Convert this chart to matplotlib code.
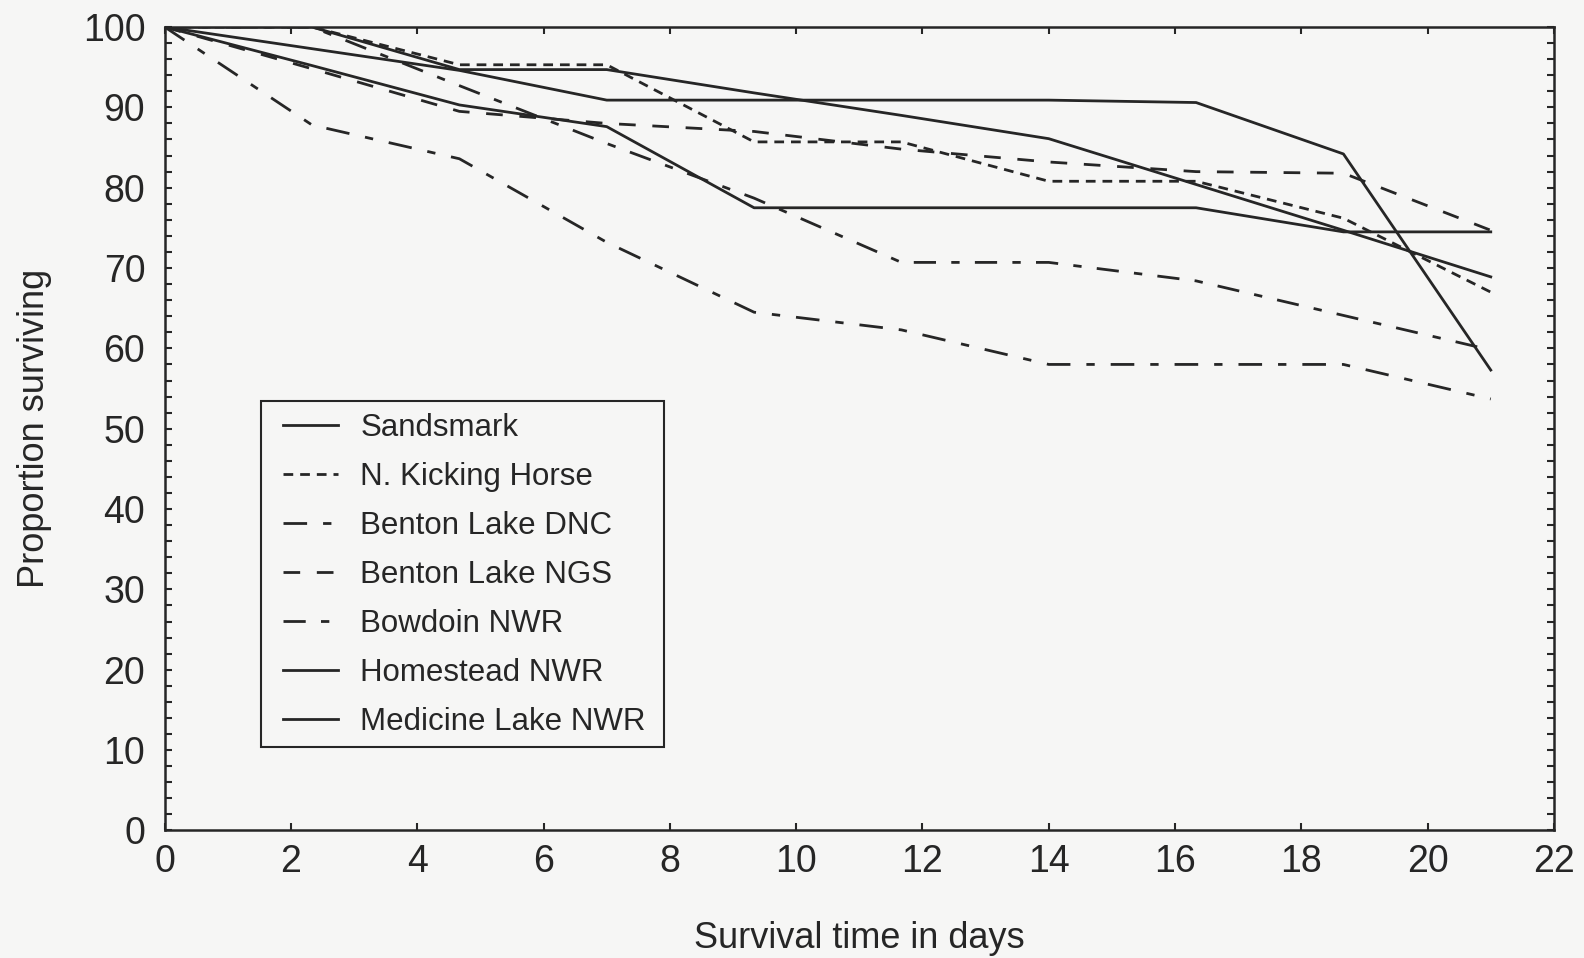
import matplotlib
matplotlib.use("Agg")
import matplotlib.pyplot as plt
from matplotlib.ticker import MultipleLocator
from matplotlib.patches import Rectangle

plt.rcParams['font.family'] = ['Liberation Sans', 'DejaVu Sans']
plt.rcParams['lines.scale_dashes'] = False

# Survival time (days) at each interval
days = [0, 7/3, 14/3, 7, 28/3, 35/3, 14, 49/3, 56/3, 21]

sandsmark        = [100, 100.0, 94.7, 94.7, 91.8, 89.0, 86.1, 80.4, 74.7, 68.9]
n_kicking_horse  = [100, 100.0, 95.3, 95.3, 85.7, 85.7, 80.8, 80.8, 76.2, 67.0]
benton_lake_dnc  = [100, 87.8, 83.6, 73.2, 64.5, 62.3, 58.0, 58.0, 58.0, 53.7]
benton_lake_ngs  = [100, 94.8, 89.5, 88.0, 87.0, 84.8, 83.2, 82.0, 81.8, 74.7]
bowdoin_nwr      = [100, 100.0, 92.7, 85.5, 78.7, 70.7, 70.7, 68.4, 64.1, 59.8]
homestead_nwr    = [100, 97.3, 94.6, 90.9, 90.9, 90.9, 90.9, 90.6, 84.2, 57.3]
medicine_lake    = [100, 95.2, 90.3, 87.6, 77.5, 77.5, 77.5, 77.5, 74.5, 74.5]

labels = ["Sandsmark", "N. Kicking Horse", "Benton Lake DNC", "Benton Lake NGS",
          "Bowdoin NWR", "Homestead NWR", "Medicine Lake NWR"]
series = [sandsmark, n_kicking_horse, benton_lake_dnc, benton_lake_ngs,
          bowdoin_nwr, homestead_nwr, medicine_lake]
styles = ['-', (0, (7, 5)), (0, (17, 11.5, 6, 11.5)), (0, (12, 12)),
          (0, (16, 11, 6, 11)), '-', '-']

ink = '#262626'
bg = '#f6f6f5'

fig = plt.figure(figsize=(15.84, 9.58), dpi=100, facecolor=bg)
ax = fig.add_axes([0.104, 0.1332, 0.877, 0.8386], facecolor=bg)

for y, lab, ls in zip(series, labels, styles):
    ax.plot(days, y, color=ink, lw=2.0, linestyle=ls, label=lab)

ax.set_xlim(0, 22)
ax.set_ylim(0, 100)
ax.xaxis.set_major_locator(MultipleLocator(2))
ax.yaxis.set_major_locator(MultipleLocator(10))
ax.yaxis.set_minor_locator(MultipleLocator(2))

for s in ax.spines.values():
    s.set_color(ink)
    s.set_linewidth(1.8)

ax.tick_params(axis='both', which='both', direction='in', top=True, right=True,
               color=ink, width=1.5, length=5, labelcolor=ink, labelsize=27)
ax.tick_params(axis='x', pad=10)
ax.tick_params(axis='y', pad=14)

ax.set_xlabel("Survival time in days", fontsize=26, color=ink, labelpad=29)
ax.set_ylabel("Proportion surviving", fontsize=26, color=ink, labelpad=22)

# legend frame drawn separately for exact padding
box = Rectangle((0.0690, 0.1032), 0.3592 - 0.0690, 0.5344 - 0.1032,
                transform=ax.transAxes, facecolor=bg, edgecolor=ink,
                linewidth=1.5, zorder=5)
ax.add_patch(box)

leg = ax.legend(loc='upper left', bbox_to_anchor=(0.0851, 0.5197), fontsize=22.5,
                frameon=False, handlelength=1.75, handletextpad=0.72,
                labelspacing=0.61, borderpad=0.0, borderaxespad=0)
leg.set_zorder(6)
for t in leg.get_texts():
    t.set_color(ink)

fig.savefig("out.png", dpi=100, facecolor=bg)
